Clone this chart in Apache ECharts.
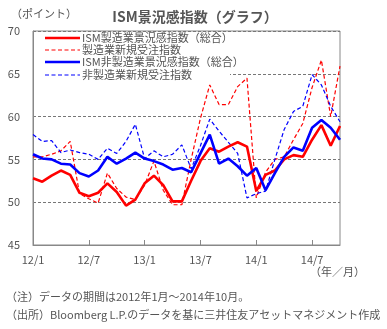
<!DOCTYPE html>
<html><head><meta charset="utf-8">
<script src="https://cdn.jsdelivr.net/npm/echarts@6/dist/echarts.min.js"></script>
<style>html,body{margin:0;padding:0;background:#fff}#c{width:387px;height:329px}</style>
</head><body><div id="c"></div>
<script>
const categories = ['12/1','12/2','12/3','12/4','12/5','12/6','12/7','12/8','12/9','12/10','12/11','12/12',
'13/1','13/2','13/3','13/4','13/5','13/6','13/7','13/8','13/9','13/10','13/11','13/12',
'14/1','14/2','14/3','14/4','14/5','14/6','14/7','14/8','14/9','14/10'];
const mfg = [52.8,52.4,53.1,53.7,53.2,51.1,50.7,51.1,52.2,51.2,49.6,50.3,
52.2,53.1,52.0,50.1,50.1,52.5,54.8,56.3,55.9,56.5,57.0,56.5,
51.3,53.2,53.7,55.0,55.5,55.3,57.3,59.0,56.6,58.9];
const mfgOrders = [55.3,55.3,55.6,56.0,57.1,51.0,50.4,49.9,53.4,51.6,50.6,50.3,
52.0,54.8,51.4,49.7,49.7,55.0,59.8,63.7,61.4,61.4,63.5,64.5,
50.5,53.5,55.0,55.3,57.3,59.2,63.4,66.6,60.0,65.9];
const nonMfg = [55.6,55.1,55.0,54.5,54.4,53.4,53.0,53.7,55.3,54.5,55.1,55.8,
55.1,54.8,54.4,53.8,54.0,53.5,55.7,57.9,54.5,55.1,54.2,53.1,
54.0,51.4,53.4,55.3,56.4,56.0,58.7,59.6,58.7,57.3];
const nonMfgOrders = [57.9,57.1,57.2,55.8,56.1,55.8,55.6,55.0,56.3,55.7,57.1,59.1,
55.1,56.0,55.3,55.6,56.7,53.9,56.6,59.7,58.3,57.0,55.7,50.5,
51.0,51.3,55.0,58.5,60.6,61.2,64.9,63.7,61.2,59.4];
const seriesNames = ['ISM製造業景況感指数（総合）','製造業新規受注指数','ISM非製造業景況感指数（総合）','非製造業新規受注指数'];
const yTicks = {min:45, max:70, interval:5};

const chart = echarts.init(document.getElementById('c'), null, {renderer:'canvas'});
const font = '"Noto Sans CJK JP", sans-serif';
const styles = [
  {color:'#ff0000', dashed:false},
  {color:'#ff0000', dashed:true},
  {color:'#0000ff', dashed:false},
  {color:'#0000ff', dashed:true}
];
function lineStyle(s){ return {stroke:s.color, lineWidth:s.dashed?1.2:2.6, lineDash:s.dashed?[4,2.5]:null}; }
function mk(i, data){
  const s = styles[i];
  return {name:seriesNames[i], type:'line', data, symbol:'none', showSymbol:false, z: s.dashed?2:3,
    lineStyle:{color:s.color, width: s.dashed?1.2:2.6, type: s.dashed?[4,2.5]:'solid'},
    itemStyle:{color:s.color}, emphasis:{disabled:true}};
}
const rowsY = [38, 50, 62, 75];
const legendGraphics = [{type:'rect', shape:{x:34, y:32, width:196, height:50}, style:{fill:'#fff'}, z:10}];
seriesNames.forEach((n,i)=>{
  legendGraphics.push({type:'line', shape:{x1:45, y1:rowsY[i], x2:80, y2:rowsY[i]}, style:lineStyle(styles[i]), z:11});
  legendGraphics.push({type:'text', x:82, y:rowsY[i], style:{text:n, font:'11px '+font, fill:'#555', textVerticalAlign:'middle', verticalAlign:'middle'}, z:11});
});
chart.setOption({
  animation:false,
  title:{text:'ISM景況感指数（グラフ）', left:190, textAlign:'center', top:5,
    textStyle:{fontFamily:font, fontSize:14, fontWeight:'bold', color:'#555'}},
  grid:{left:33, right:47, top:31, bottom:84, show:true, borderColor:'#888', borderWidth:1},
  xAxis:{type:'category', data:categories, boundaryGap:false,
    axisLine:{lineStyle:{color:'#888'}},
    axisTick:{inside:true, length:5, interval:5, lineStyle:{color:'#888'}},
    axisLabel:{interval:5, margin:9, fontFamily:font, fontSize:11, color:'#555'},
    splitLine:{show:false}},
  yAxis:{type:'value', min:yTicks.min, max:yTicks.max, interval:yTicks.interval,
    axisLine:{show:true, lineStyle:{color:'#888'}}, axisTick:{show:false},
    axisLabel:{margin:13, fontFamily:font, fontSize:11, color:'#555'},
    splitLine:{lineStyle:{color:'#777', type:[3,2], width:1}}},
  graphic:[
    {type:'text', left:11, top:8, style:{text:'（ポイント）', font:'11px '+font, fill:'#555'}},
    {type:'text', left:310, top:266, style:{text:'（年／月）', font:'11px '+font, fill:'#555'}},
    {type:'text', left:6, top:291, style:{text:'（注）データの期間は2012年1月～2014年10月。', font:'11px '+font, fill:'#555'}},
    {type:'text', left:6, top:309, style:{text:'（出所）Bloomberg L.P.のデータを基に三井住友アセットマネジメント作成', font:'11px '+font, fill:'#555'}}
  ].concat(legendGraphics),
  series:[ mk(0, mfg), mk(1, mfgOrders), mk(2, nonMfg), mk(3, nonMfgOrders) ]
});
</script></body></html>
